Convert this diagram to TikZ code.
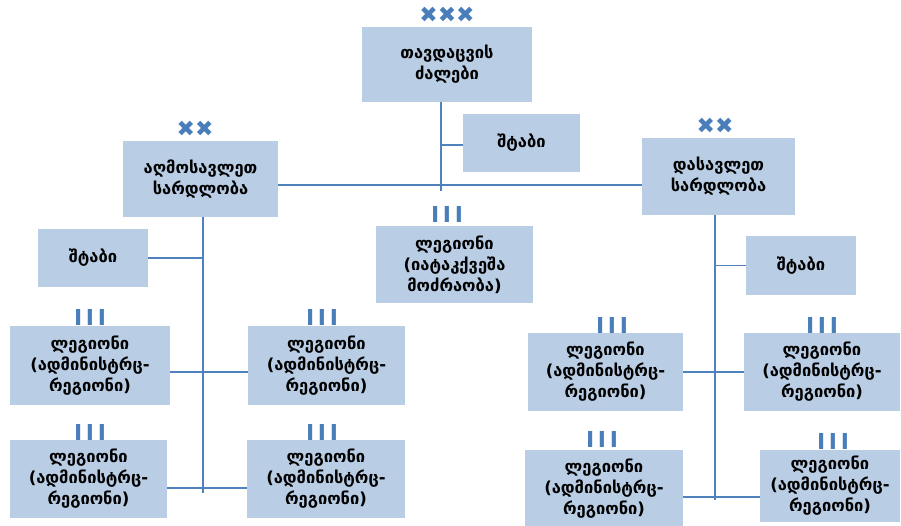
\documentclass[tikz,border=0pt]{standalone}
\usepackage{fontspec}
\newfontfamily\geo{DejaVu Sans}
\newfontfamily\symf{DejaVu Sans}
\definecolor{boxfill}{HTML}{B9CDE5}
\definecolor{linec}{HTML}{4F81BD}
\definecolor{symc}{HTML}{4A7EBB}
\tikzset{
  unit/.style={fill=boxfill, draw=none, inner sep=0pt, align=center,
    font=\geo\bfseries\fontsize{16.5}{21}\selectfont, text=black},
  conn/.style={draw=linec, line width=1.3pt},
  xsym/.style={text=symc, font=\symf\fontsize{22}{22}\selectfont, inner sep=0pt},
  isym/.style={text=symc, font=\symf\bfseries\fontsize{22}{22}\selectfont, inner sep=0pt}
}
\begin{document}
\begin{tikzpicture}[x=1pt,y=-1pt]
\useasboundingbox (0,0) rectangle (901,526);
% boxes
\node[unit, minimum width=170pt, minimum height=75pt] (top) at (447,64.5) {თავდაცვის\\ძალები};
\node[unit, minimum width=117pt, minimum height=58pt] (staffT) at (521.5,143) {შტაბი};
\node[unit, minimum width=155pt, minimum height=76pt] (cmdL) at (200.5,179) {აღმოსავლეთ\\სარდლობა};
\node[unit, minimum width=153pt, minimum height=77pt] (cmdR) at (718.5,176.5) {დასავლეთ\\სარდლობა};
\node[unit, minimum width=157pt, minimum height=77pt] (legC) at (454.5,264.5) {ლეგიონი\\(იატაკქვეშა\\მოძრაობა)};
\node[unit, minimum width=110pt, minimum height=58pt] (staffL) at (93,258) {შტაბი};
\node[unit, minimum width=110pt, minimum height=59pt] (staffR) at (801,265.5) {შტაბი};
\node[unit, minimum width=160pt, minimum height=79pt] (A) at (90,365.5) {ლეგიონი\\(ადმინისტრც-\\რეგიონი)};
\node[unit, minimum width=157pt, minimum height=79pt] (B) at (326.5,365.5) {ლეგიონი\\(ადმინისტრც-\\რეგიონი)};
\node[unit, minimum width=157pt, minimum height=78pt] (C) at (88.5,479) {ლეგიონი\\(ადმინისტრც-\\რეგიონი)};
\node[unit, minimum width=158pt, minimum height=78pt] (D) at (326,479) {ლეგიონი\\(ადმინისტრც-\\რეგიონი)};
\node[unit, minimum width=155pt, minimum height=78pt] (E) at (605.5,372) {ლეგიონი\\(ადმინისტრც-\\რეგიონი)};
\node[unit, minimum width=156pt, minimum height=78pt] (F) at (822,372) {ლეგიონი\\(ადმინისტრც-\\რეგიონი)};
\node[unit, minimum width=158pt, minimum height=78pt] (G) at (604,489) {ლეგიონი\\(ადმინისტრც-\\რეგიონი)};
\node[unit, minimum width=140pt, minimum height=72pt] (H) at (830,486) {ლეგიონი\\(ადმინისტრც-\\რეგიონი)};
% symbols
\node[xsym] (sTop) at (447,15) {✖✖✖};
\node[xsym] (sL) at (195,129) {✖✖};
\node[xsym] (sR) at (715,126) {✖✖};
\node[isym] (sC) at (447,214) {I\,I\,I};
\node[isym] (sA) at (90,317) {I\,I\,I};
\node[isym] (sB) at (322,317) {I\,I\,I};
\node[isym] (sCc) at (90,432) {I\,I\,I};
\node[isym] (sD) at (322,432) {I\,I\,I};
\node[isym] (sE) at (612,325) {I\,I\,I};
\node[isym] (sF) at (822,325) {I\,I\,I};
\node[isym] (sG) at (602,439) {I\,I\,I};
\node[isym] (sH) at (833,441) {I\,I\,I};
% connector coordinates
\coordinate (tTop) at (441,102);
\coordinate (tMid) at (441,191);
\coordinate (tStaff) at (441,145);
\coordinate (lTop) at (203,217);
\coordinate (lBot) at (203,493);
\coordinate (rTop) at (715,215);
\coordinate (rBot) at (715,500);
% connectors
\draw[conn] (tTop) -- (tMid);
\draw[conn] (tStaff) -- (staffT.west |- tStaff);
\draw[conn] (cmdL.east |- 0,185) -- (cmdR.west |- 0,185);
\draw[conn] (lTop) -- (lBot);
\draw[conn] (staffL.east) -- (staffL.east -| lTop);
\draw[conn] (A.east |- 0,372) -- (B.west |- 0,372);
\draw[conn] (C.east |- 0,488) -- (D.west |- 0,488);
\draw[conn] (rTop) -- (rBot);
\draw[conn] (staffR.west) -- (staffR.west -| rTop);
\draw[conn] (E.east |- 0,372) -- (F.west |- 0,372);
\draw[conn] (G.east |- 0,497) -- (H.west |- 0,497);
\end{tikzpicture}
\end{document}
